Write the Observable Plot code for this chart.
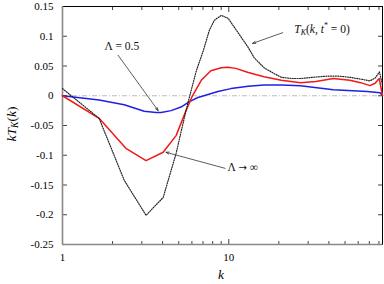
<!DOCTYPE html>
<html><head><meta charset="utf-8">
<script src="https://cdn.jsdelivr.net/npm/d3@7"></script>
<script src="https://cdn.jsdelivr.net/npm/@observablehq/plot@0.6"></script>
<style>
body{margin:0;background:#fff}
svg{font-family:"Liberation Serif","DejaVu Serif",serif}
</style>
</head><body><div id="chart"></div>
<script>
// Black dotted: T_K(k, t* = 0)
const kBlack = [1, 1.66, 2.35, 3.18, 4.03, 4.82, 5.53, 5.79, 6.38, 7.03, 7.64, 8.19, 9.02, 9.93, 10.8, 11.9, 13.1, 14.2, 16.3, 18.8, 20.7, 24, 27, 32, 39, 46, 53.5, 62, 70.6, 76, 80.5, 84];
const vBlack = [0.012, -0.038, -0.142, -0.201, -0.171, -0.097, -0.025, -0.003, 0.042, 0.076, 0.110, 0.127, 0.135, 0.130, 0.115, 0.098, 0.081, 0.064, 0.047, 0.037, 0.031, 0.029, 0.029, 0.031, 0.033, 0.033, 0.031, 0.028, 0.025, 0.030, 0.040, 0.018];
// Red: Lambda -> infinity
const kRed = [1, 1.66, 2.42, 3.18, 4.03, 4.82, 5.53, 6.0, 6.83, 7.8, 9.0, 9.9, 11.0, 13.1, 16.3, 20.7, 27, 33.4, 42.5, 53.5, 62, 70.6, 75.8, 80.3, 84];
const vRed = [0, -0.038, -0.089, -0.109, -0.095, -0.067, -0.025, -0.002, 0.026, 0.042, 0.047, 0.048, 0.046, 0.039, 0.032, 0.026, 0.022, 0.024, 0.029, 0.026, 0.022, 0.017, 0.021, 0.029, 0.000];
// Blue: Lambda = 0.5
const kBlue = [1, 1.66, 2.35, 3.10, 3.65, 3.92, 4.5, 5.16, 5.8, 6.52, 7.5, 8.6, 10.3, 13.1, 16.3, 20.7, 27, 42.5, 68, 81.3, 84];
const vBlue = [0, -0.007, -0.015, -0.026, -0.028, -0.028, -0.025, -0.019, -0.010, -0.003, 0.002, 0.007, 0.012, 0.016, 0.018, 0.018, 0.017, 0.010, 0.007, 0.005, 0.000];

const yTicks = [-0.25, -0.2, -0.15, -0.1, -0.05, 0, 0.05, 0.1, 0.15];
const xMajor = [1, 10];
const xMinor = [2, 3, 4, 5, 6, 7, 8, 9, 20, 30, 40, 50, 60, 70, 80];

// annotations
const annLabels = ["Λ = 0.5", "Λ → ∞"];
const annTextK = [2.29, 9.9];
const annTextV = [0.081, -0.122];
const annFromK = [2.16, 9.5];
const annFromV = [0.068, -0.122];
const annToK = [3.76, 4.19];
const annToV = [-0.025, -0.095];
const tkText = {k: 36.6, v: 0.110, fromK: 21.1, fromV: 0.106, toK: 13.9, toV: 0.088};

const xDomain = [1, 84];
const yDomain = [-0.25, 0.15];

const series = (ks, vs) => ks.map((k, i) => ({k, v: vs[i]}));
const black = series(kBlack, vBlack);
const red = series(kRed, vRed);
const blue = series(kBlue, vBlue);
const arrows = annLabels.map((t, i) => ({x1: annFromK[i], y1: annFromV[i], x2: annToK[i], y2: annToV[i]}))
  .concat([{x1: tkText.fromK, y1: tkText.fromV, x2: tkText.toK, y2: tkText.toV}]);

const plot = Plot.plot({
  width: 384,
  height: 284,
  marginLeft: 62,
  marginRight: 2,
  marginTop: 6,
  marginBottom: 40,
  style: {fontFamily: '"Liberation Serif", serif', fontSize: "11px", background: "#fff", color: "#000"},
  x: {type: "log", domain: xDomain, label: null},
  y: {domain: yDomain, label: null},
  marks: [
    Plot.ruleY([0], {stroke: "#bbb", strokeWidth: 1, strokeDasharray: "5,2,1,2"}),
    // tick labels
    Plot.axisY(yTicks, {anchor: "left", tickSize: 0, tickPadding: 9, fontSize: 11, tickFormat: d => d === 0 ? "0" : String(d)}),
    Plot.axisX(xMajor, {anchor: "bottom", tickSize: 0, tickPadding: 9, fontSize: 11, tickFormat: d => String(d)}),
    // inward ticks
    Plot.axisY(yTicks, {anchor: "left", tickSize: -5, text: null, stroke: "#444"}),
    Plot.axisY(yTicks, {anchor: "right", tickSize: -5, text: null, stroke: "#444"}),
    Plot.axisX(xMajor, {anchor: "bottom", tickSize: -5, text: null, stroke: "#444"}),
    Plot.axisX(xMajor, {anchor: "top", tickSize: -5, text: null, stroke: "#444"}),
    Plot.axisX(xMinor, {anchor: "bottom", tickSize: -3, text: null, stroke: "#444"}),
    Plot.axisX(xMinor, {anchor: "top", tickSize: -3, text: null, stroke: "#444"}),
    // frame
    Plot.ruleX([xDomain[1]], {stroke: "#000", strokeWidth: 1}),
    Plot.ruleY([yDomain[1]], {stroke: "#000", strokeWidth: 1}),
    Plot.ruleX([xDomain[0]], {stroke: "#888", strokeWidth: 1.6}),
    Plot.ruleY([yDomain[0]], {stroke: "#888", strokeWidth: 1.6}),
    // curves
    Plot.line(blue, {x: "k", y: "v", stroke: "#1f1fe8", strokeWidth: 1.5}),
    Plot.line(red, {x: "k", y: "v", stroke: "#f01818", strokeWidth: 1.5}),
    Plot.line(black, {x: "k", y: "v", stroke: "#222", strokeWidth: 1.2, strokeDasharray: "1,1.4"}),
    // annotations
    Plot.arrow(arrows, {x1: "x1", y1: "y1", x2: "x2", y2: "y2", stroke: "#333", strokeWidth: 0.8, headLength: 6, headAngle: 40})
  ]
});

document.getElementById("chart").appendChild(plot);
const svg = d3.select(plot);
const sx = plot.scale("x"), sy = plot.scale("y");

// Λ = 0.5
svg.append("text")
  .attr("x", sx.apply(annTextK[0])).attr("y", sy.apply(annTextV[0]))
  .attr("text-anchor", "middle").attr("dominant-baseline", "middle")
  .attr("font-size", 11.5).attr("fill", "#111")
  .text(annLabels[0]);

// Λ → ∞
const inf = svg.append("text")
  .attr("x", sx.apply(annTextK[1])).attr("y", sy.apply(annTextV[1]))
  .attr("text-anchor", "start").attr("dominant-baseline", "middle")
  .attr("font-size", 11.5).attr("fill", "#111");
const parts = annLabels[1].split(" ");
inf.append("tspan").text(parts[0] + " ");
inf.append("tspan").attr("font-family", '"DejaVu Sans", sans-serif').attr("font-size", 10).text(parts[1]);
inf.append("tspan").text(" " + parts[2]);

// T_K(k, t* = 0) label
const tk = svg.append("text")
  .attr("x", sx.apply(tkText.k)).attr("y", sy.apply(tkText.v))
  .attr("text-anchor", "middle").attr("dominant-baseline", "middle")
  .attr("font-size", 11.5).attr("fill", "#111");
tk.append("tspan").attr("font-style", "italic").text("T");
tk.append("tspan").attr("font-style", "italic").attr("font-size", 8).attr("dy", 3).text("K");
tk.append("tspan").attr("dy", -3).text("(");
tk.append("tspan").attr("font-style", "italic").text("k, t");
tk.append("tspan").attr("font-size", 8).attr("dy", -4).text("*");
tk.append("tspan").attr("dy", 4).text(" = 0)");

// y-axis label kT_K(k)
const yl = svg.append("text")
  .attr("transform", "translate(13,124) rotate(-90)")
  .attr("text-anchor", "middle").attr("dominant-baseline", "middle")
  .attr("font-size", 13.5).attr("fill", "#000");
yl.append("tspan").attr("font-style", "italic").text("kT");
yl.append("tspan").attr("font-style", "italic").attr("font-size", 9.5).attr("dy", 3).text("K");
yl.append("tspan").attr("dy", -3).text("(");
yl.append("tspan").attr("font-style", "italic").text("k");
yl.append("tspan").text(")");

// x-axis label k
svg.append("text")
  .attr("x", 221).attr("y", 276)
  .attr("text-anchor", "middle").attr("dominant-baseline", "middle")
  .attr("font-size", 13.5).attr("font-style", "italic").attr("fill", "#000")
  .text("k");
</script>
</body></html>
